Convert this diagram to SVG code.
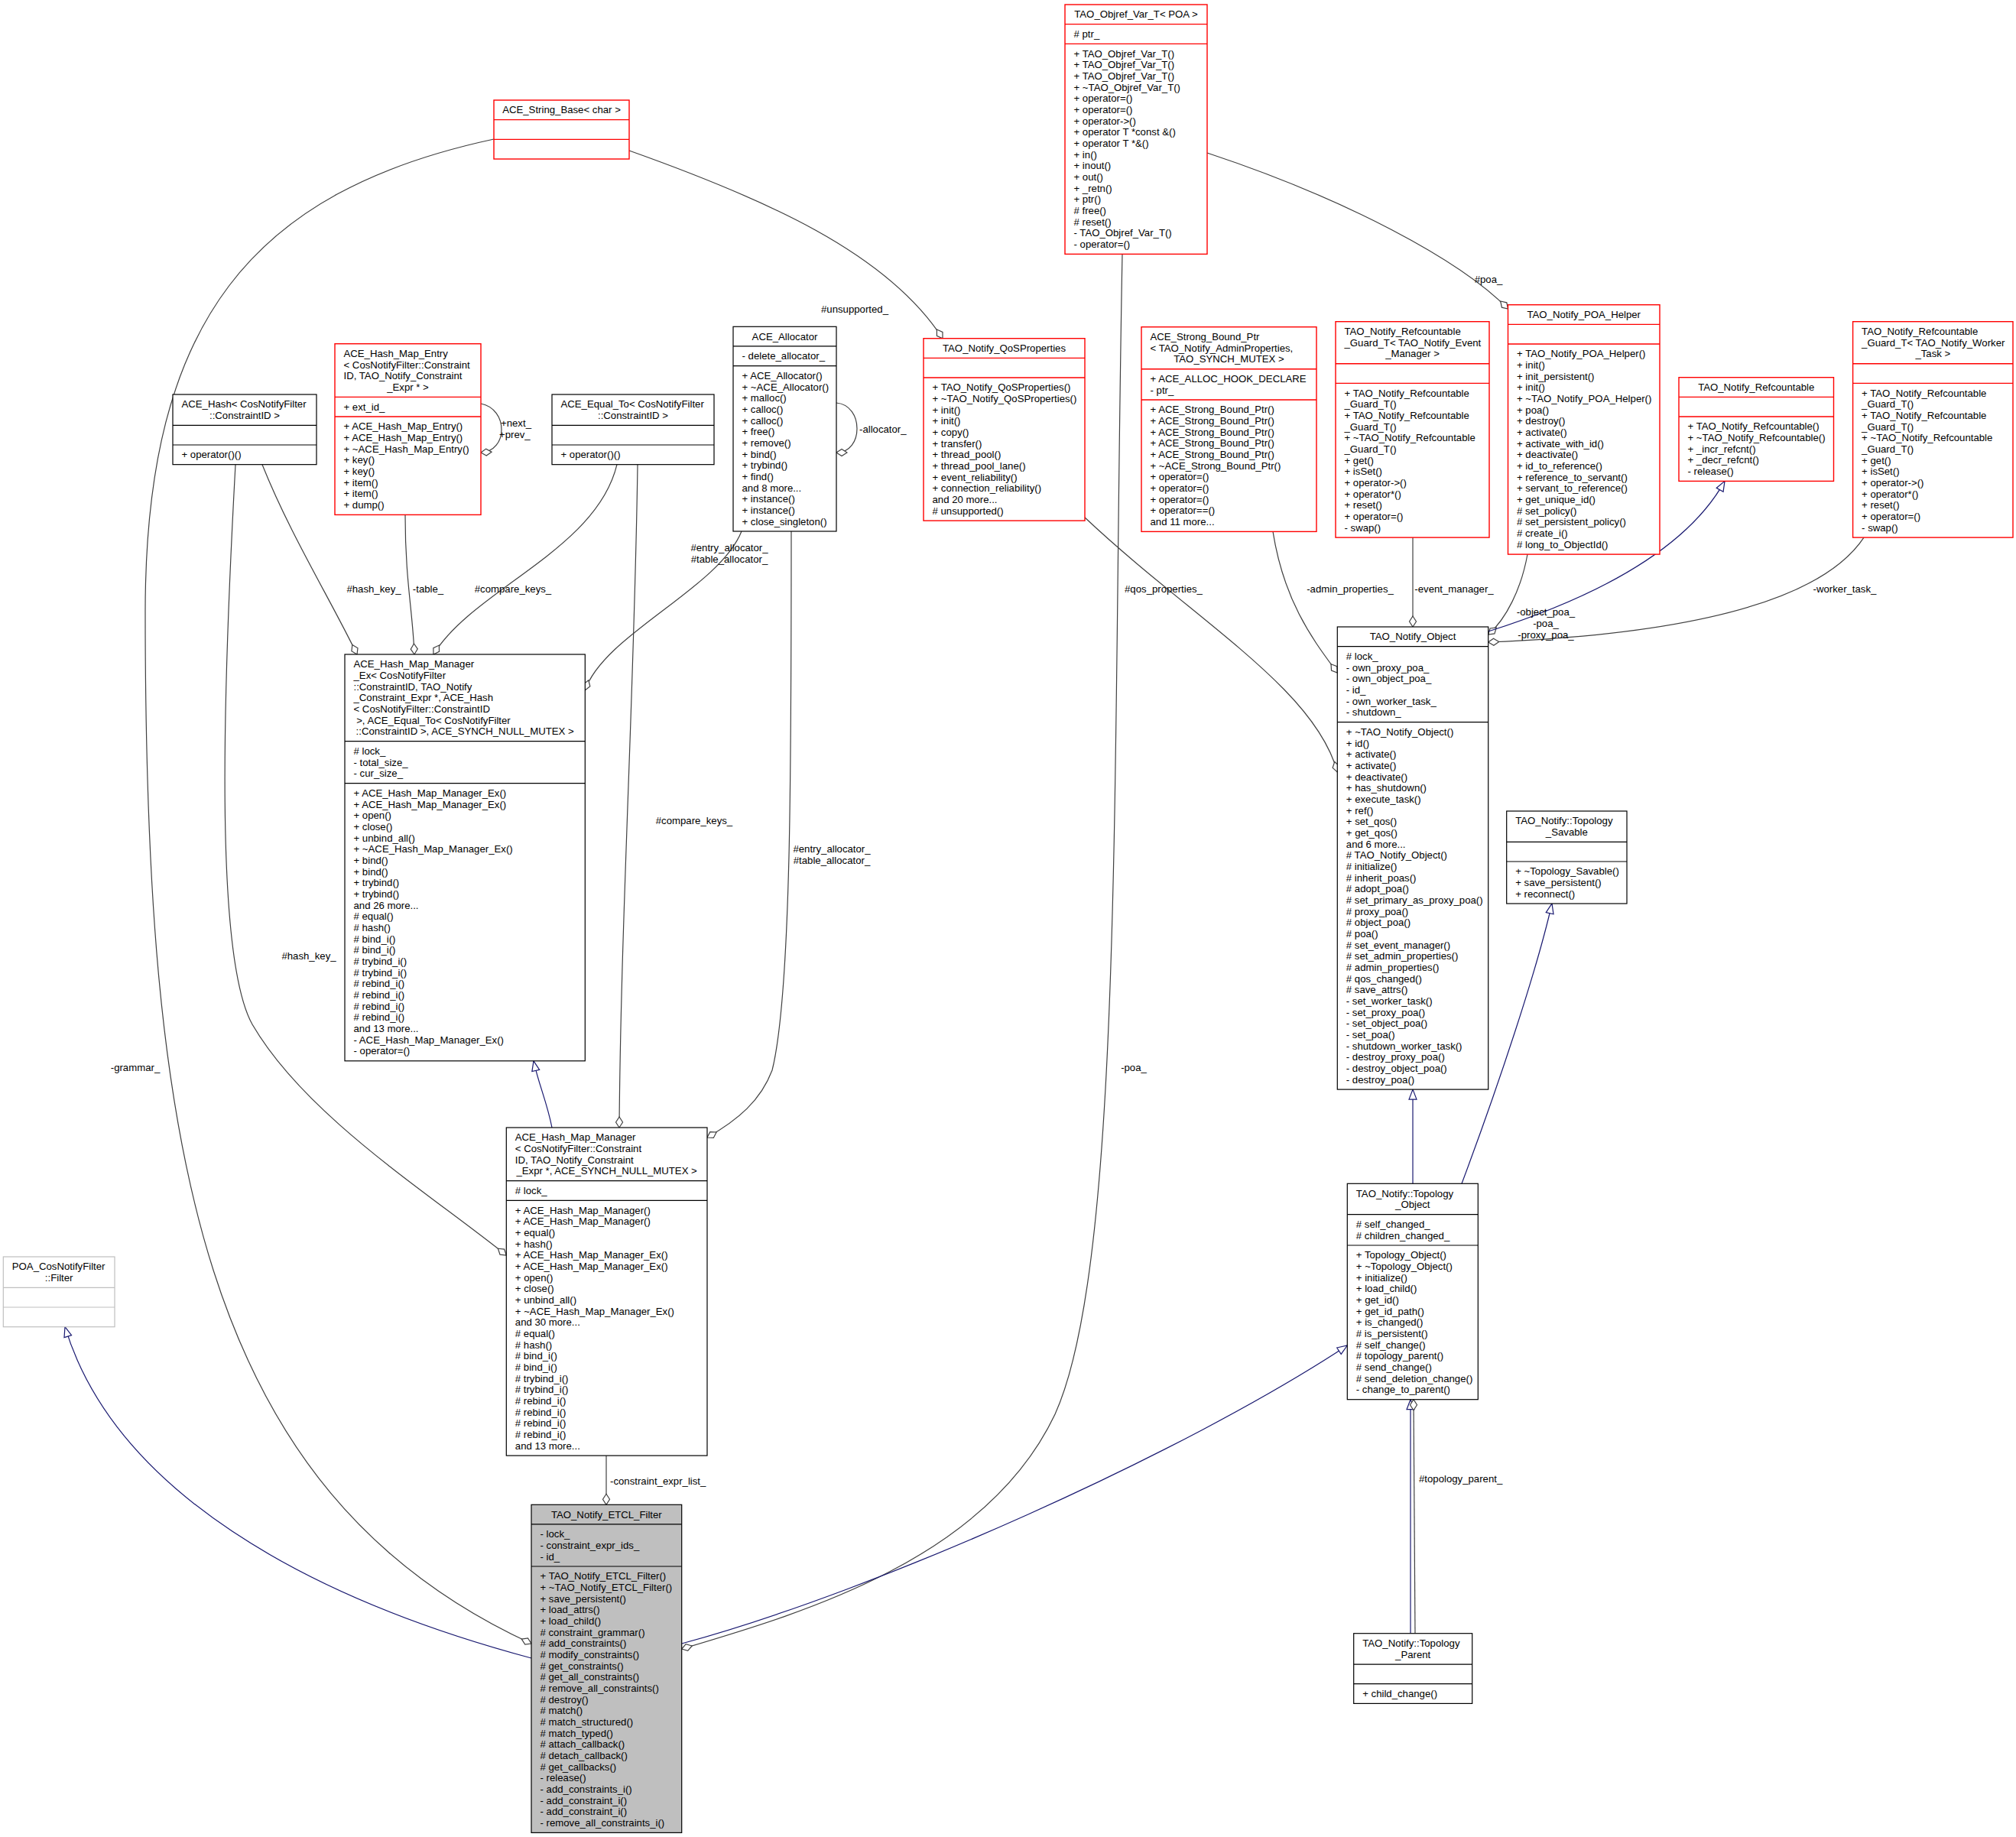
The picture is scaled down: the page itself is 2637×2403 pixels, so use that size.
<svg xmlns="http://www.w3.org/2000/svg" width="2637" height="2403" viewBox="0 0 2637 2403">
<style>
text{font-family:"Liberation Sans",Arial,Helvetica,sans-serif;font-size:13.2px;fill:#000}
.m{text-anchor:middle}
.bx{fill:#fff;stroke:#000;stroke-width:1.2}
.rd{fill:#fff;stroke:#ff0000;stroke-width:1.4}
.gy{fill:#fff;stroke:#bfbfbf;stroke-width:1.2}
.cur{fill:#bfbfbf;stroke:#000;stroke-width:1.2}
.sep{fill:none}
.e{fill:none;stroke:#404040;stroke-width:1.2;marker-end:url(#dia)}
.i{fill:none;stroke:#191970;stroke-width:1.2;marker-end:url(#tri)}
</style>
<defs>
<marker id="dia" markerUnits="userSpaceOnUse" markerWidth="17" markerHeight="12" viewBox="-1 -6 17 12" refX="14" refY="0" orient="auto"><path d="M0,0 L7,-4.5 L14,0 L7,4.5 Z" fill="#fff" stroke="#404040" stroke-width="1.2"/></marker>
<marker id="tri" markerUnits="userSpaceOnUse" markerWidth="16" markerHeight="14" viewBox="-1 -7 16 14" refX="13" refY="0" orient="auto"><path d="M0,-5 L13,0 L0,5 Z" fill="#fff" stroke="#191970" stroke-width="1.2"/></marker>
</defs>
<rect width="2637" height="2403" fill="#fff"/>

<g id="connectors">
<path class="i" d="M695 2169 C400 2090 150 1950 85 1735.7"/>
<path class="e" d="M646 182 C330 250 190 420 190 800 C190 1500 260 1950 695 2150"/>
<path class="e" d="M823 197 C1000 260 1160 330 1233 442.7"/>
<path class="e" d="M1468 332.4 C1455 1000 1470 1650 1380 1850 C1290 2040 1050 2110 891.7 2157"/>
<path class="e" d="M1579 200 C1760 260 1910 340 1972.5 404"/>
<path class="e" d="M343 607.7 C380 700 430 780 467 856"/>
<path class="e" d="M308 607.7 C292 900 280 1250 330 1340 C400 1460 560 1560 662.3 1642"/>
<path class="e" d="M530 673.4 C530 760 540 800 542 856"/>
<path class="e" d="M807 607.7 C780 720 620 770 567 856"/>
<path class="e" d="M834 607.7 C830 900 812 1200 810 1475"/>
<path class="e" d="M970 695 C940 770 790 830 765.3 903"/>
<path class="e" d="M1035 695 C1035 1000 1035 1300 1010 1400 C995 1440 965 1465 925 1488"/>
<path class="e" d="M1094 527 C1130 530 1130 592 1094 592"/>
<path class="e" d="M629 528 C665 535 665 590 629 592"/>
<path class="i" d="M722 1475 C715 1440 705 1420 698 1387.8"/>
<path class="e" d="M793 1904.1 L793 1968.3"/>
<path class="i" d="M891.7 2150 C1150 2080 1550 1900 1762.3 1760"/>
<path class="i" d="M1848 1548.3 L1848 1425.1"/>
<path class="i" d="M1912 1548.3 C1960 1420 2010 1270 2030 1182"/>
<path class="i" d="M1845 2136.7 L1845 1830.7"/>
<path class="e" d="M1851 2136.7 C1851 2000 1849 1900 1849 1830.7"/>
<path class="e" d="M1665 695.4 C1680 790 1720 840 1749.3 880"/>
<path class="e" d="M1418 676 C1560 810 1720 900 1749.3 1010"/>
<path class="e" d="M1848 703.1 L1848 820"/>
<path class="e" d="M1998 725 C1990 770 1970 810 1946.7 830"/>
<path class="i" d="M1946.7 826 C2060 790 2200 730 2256 629.4"/>
<path class="e" d="M2438 703.1 C2380 790 2200 830 1946.7 840"/>
<text class="m" x="177" y="1401">-grammar_</text>
<text class="m" x="1118" y="409">#unsupported_</text>
<text class="m" x="1483" y="1401">-poa_</text>
<text class="m" x="1947" y="370">#poa_</text>
<text class="m" x="489" y="775">#hash_key_</text>
<text class="m" x="560" y="775">-table_</text>
<text class="m" x="671" y="775">#compare_keys_</text>
<text class="m" x="954" y="721">#entry_allocator_</text>
<text class="m" x="954" y="736">#table_allocator_</text>
<text x="1124" y="566">-allocator_</text>
<text x="655" y="558">+next_</text>
<text x="653" y="573">+prev_</text>
<text class="m" x="404" y="1255">#hash_key_</text>
<text class="m" x="908" y="1078">#compare_keys_</text>
<text class="m" x="1088" y="1115">#entry_allocator_</text>
<text class="m" x="1088" y="1130">#table_allocator_</text>
<text x="798" y="1942">-constraint_expr_list_</text>
<text x="1856" y="1939">#topology_parent_</text>
<text class="m" x="1522" y="775">#qos_properties_</text>
<text class="m" x="1766" y="775">-admin_properties_</text>
<text class="m" x="1902" y="775">-event_manager_</text>
<text class="m" x="2022" y="805">-object_poa_</text>
<text class="m" x="2022" y="820">-poa_</text>
<text class="m" x="2022" y="835">-proxy_poa_</text>
<text class="m" x="2413" y="775">-worker_task_</text>
</g>

<g id="tao_objref_var_t">
<rect class="rd" x="1393" y="6" width="186" height="326.4"/>
<path class="rd sep" d="M1393 31.67H1579M1393 57.34H1579"/>
<text class="m" x="1486" y="23.2">TAO_Objref_Var_T&lt; POA &gt;</text>
<text x="1404.5" y="48.87"># ptr_</text>
<text x="1404.5" y="74.54">+ TAO_Objref_Var_T()<tspan x="1404.5" dy="14.67">+ TAO_Objref_Var_T()</tspan><tspan x="1404.5" dy="14.67">+ TAO_Objref_Var_T()</tspan><tspan x="1404.5" dy="14.67">+ ~TAO_Objref_Var_T()</tspan><tspan x="1404.5" dy="14.67">+ operator=()</tspan><tspan x="1404.5" dy="14.67">+ operator=()</tspan><tspan x="1404.5" dy="14.67">+ operator-&gt;()</tspan><tspan x="1404.5" dy="14.67">+ operator T *const &amp;()</tspan><tspan x="1404.5" dy="14.67">+ operator T *&amp;()</tspan><tspan x="1404.5" dy="14.67">+ in()</tspan><tspan x="1404.5" dy="14.67">+ inout()</tspan><tspan x="1404.5" dy="14.67">+ out()</tspan><tspan x="1404.5" dy="14.67">+ _retn()</tspan><tspan x="1404.5" dy="14.67">+ ptr()</tspan><tspan x="1404.5" dy="14.67"># free()</tspan><tspan x="1404.5" dy="14.67"># reset()</tspan><tspan x="1404.5" dy="14.67">- TAO_Objref_Var_T()</tspan><tspan x="1404.5" dy="14.67">- operator=()</tspan></text>
</g>

<g id="ace_string_base">
<rect class="rd" x="646" y="131" width="177" height="77"/>
<path class="rd sep" d="M646 156.67H823M646 182.34H823"/>
<text class="m" x="734.5" y="148.2">ACE_String_Base&lt; char &gt;</text>
</g>

<g id="ace_hash">
<rect class="bx" x="226" y="516" width="188" height="91.67"/>
<path class="bx sep" d="M226 556.34H414M226 582H414"/>
<text x="237.5" y="533.2">ACE_Hash&lt; CosNotifyFilter</text>
<text class="m" x="320" y="547.87">::ConstraintID &gt;</text>
<text x="237.5" y="599.2">+ operator()()</text>
</g>

<g id="ace_hash_map_entry">
<rect class="rd" x="438" y="449.7" width="191" height="223.7"/>
<path class="rd sep" d="M438 519.38H629M438 545.05H629"/>
<text x="449.5" y="466.9">ACE_Hash_Map_Entry<tspan x="449.5" dy="14.67">&lt; CosNotifyFilter::Constraint</tspan><tspan x="449.5" dy="14.67">ID, TAO_Notify_Constraint</tspan></text>
<text class="m" x="533.5" y="510.91">_Expr * &gt;</text>
<text x="449.5" y="536.58">+ ext_id_</text>
<text x="449.5" y="562.25">+ ACE_Hash_Map_Entry()<tspan x="449.5" dy="14.67">+ ACE_Hash_Map_Entry()</tspan><tspan x="449.5" dy="14.67">+ ~ACE_Hash_Map_Entry()</tspan><tspan x="449.5" dy="14.67">+ key()</tspan><tspan x="449.5" dy="14.67">+ key()</tspan><tspan x="449.5" dy="14.67">+ item()</tspan><tspan x="449.5" dy="14.67">+ item()</tspan><tspan x="449.5" dy="14.67">+ dump()</tspan></text>
</g>

<g id="ace_equal_to">
<rect class="bx" x="722" y="516" width="212" height="91.67"/>
<path class="bx sep" d="M722 556.34H934M722 582H934"/>
<text x="733.5" y="533.2">ACE_Equal_To&lt; CosNotifyFilter</text>
<text class="m" x="828" y="547.87">::ConstraintID &gt;</text>
<text x="733.5" y="599.2">+ operator()()</text>
</g>

<g id="ace_allocator">
<rect class="bx" x="959" y="427.3" width="135" height="267.7"/>
<path class="bx sep" d="M959 452.97H1094M959 478.64H1094"/>
<text class="m" x="1026.5" y="444.5">ACE_Allocator</text>
<text x="970.5" y="470.17">- delete_allocator_</text>
<text x="970.5" y="495.84">+ ACE_Allocator()<tspan x="970.5" dy="14.67">+ ~ACE_Allocator()</tspan><tspan x="970.5" dy="14.67">+ malloc()</tspan><tspan x="970.5" dy="14.67">+ calloc()</tspan><tspan x="970.5" dy="14.67">+ calloc()</tspan><tspan x="970.5" dy="14.67">+ free()</tspan><tspan x="970.5" dy="14.67">+ remove()</tspan><tspan x="970.5" dy="14.67">+ bind()</tspan><tspan x="970.5" dy="14.67">+ trybind()</tspan><tspan x="970.5" dy="14.67">+ find()</tspan><tspan x="970.5" dy="14.67">and 8 more...</tspan><tspan x="970.5" dy="14.67">+ instance()</tspan><tspan x="970.5" dy="14.67">+ instance()</tspan><tspan x="970.5" dy="14.67">+ close_singleton()</tspan></text>
</g>

<g id="tao_notify_qosproperties">
<rect class="rd" x="1208" y="442.7" width="211" height="238.4"/>
<path class="rd sep" d="M1208 468.37H1419M1208 494.04H1419"/>
<text class="m" x="1313.5" y="459.9">TAO_Notify_QoSProperties</text>
<text x="1219.5" y="511.24">+ TAO_Notify_QoSProperties()<tspan x="1219.5" dy="14.67">+ ~TAO_Notify_QoSProperties()</tspan><tspan x="1219.5" dy="14.67">+ init()</tspan><tspan x="1219.5" dy="14.67">+ init()</tspan><tspan x="1219.5" dy="14.67">+ copy()</tspan><tspan x="1219.5" dy="14.67">+ transfer()</tspan><tspan x="1219.5" dy="14.67">+ thread_pool()</tspan><tspan x="1219.5" dy="14.67">+ thread_pool_lane()</tspan><tspan x="1219.5" dy="14.67">+ event_reliability()</tspan><tspan x="1219.5" dy="14.67">+ connection_reliability()</tspan><tspan x="1219.5" dy="14.67">and 20 more...</tspan><tspan x="1219.5" dy="14.67"># unsupported()</tspan></text>
</g>

<g id="ace_strong_bound_ptr">
<rect class="rd" x="1493" y="427.7" width="229" height="267.7"/>
<path class="rd sep" d="M1493 482.71H1722M1493 523.05H1722"/>
<text x="1504.5" y="444.9">ACE_Strong_Bound_Ptr<tspan x="1504.5" dy="14.67">&lt; TAO_Notify_AdminProperties,</tspan></text>
<text class="m" x="1607.5" y="474.24">TAO_SYNCH_MUTEX &gt;</text>
<text x="1504.5" y="499.91">+ ACE_ALLOC_HOOK_DECLARE<tspan x="1504.5" dy="14.67">- ptr_</tspan></text>
<text x="1504.5" y="540.25">+ ACE_Strong_Bound_Ptr()<tspan x="1504.5" dy="14.67">+ ACE_Strong_Bound_Ptr()</tspan><tspan x="1504.5" dy="14.67">+ ACE_Strong_Bound_Ptr()</tspan><tspan x="1504.5" dy="14.67">+ ACE_Strong_Bound_Ptr()</tspan><tspan x="1504.5" dy="14.67">+ ACE_Strong_Bound_Ptr()</tspan><tspan x="1504.5" dy="14.67">+ ~ACE_Strong_Bound_Ptr()</tspan><tspan x="1504.5" dy="14.67">+ operator=()</tspan><tspan x="1504.5" dy="14.67">+ operator=()</tspan><tspan x="1504.5" dy="14.67">+ operator=()</tspan><tspan x="1504.5" dy="14.67">+ operator==()</tspan><tspan x="1504.5" dy="14.67">and 11 more...</tspan></text>
</g>

<g id="guard_event_manager">
<rect class="rd" x="1747" y="420.7" width="201" height="282.4"/>
<path class="rd sep" d="M1747 475.71H1948M1747 501.38H1948"/>
<text x="1758.5" y="437.9">TAO_Notify_Refcountable<tspan x="1758.5" dy="14.67">_Guard_T&lt; TAO_Notify_Event</tspan></text>
<text class="m" x="1847.5" y="467.24">_Manager &gt;</text>
<text x="1758.5" y="518.58">+ TAO_Notify_Refcountable<tspan x="1758.5" dy="14.67">_Guard_T()</tspan><tspan x="1758.5" dy="14.67">+ TAO_Notify_Refcountable</tspan><tspan x="1758.5" dy="14.67">_Guard_T()</tspan><tspan x="1758.5" dy="14.67">+ ~TAO_Notify_Refcountable</tspan><tspan x="1758.5" dy="14.67">_Guard_T()</tspan><tspan x="1758.5" dy="14.67">+ get()</tspan><tspan x="1758.5" dy="14.67">+ isSet()</tspan><tspan x="1758.5" dy="14.67">+ operator-&gt;()</tspan><tspan x="1758.5" dy="14.67">+ operator*()</tspan><tspan x="1758.5" dy="14.67">+ reset()</tspan><tspan x="1758.5" dy="14.67">+ operator=()</tspan><tspan x="1758.5" dy="14.67">- swap()</tspan></text>
</g>

<g id="tao_notify_poa_helper">
<rect class="rd" x="1972.5" y="398.7" width="198.5" height="326.4"/>
<path class="rd sep" d="M1972.5 424.37H2171M1972.5 450.04H2171"/>
<text class="m" x="2071.75" y="415.9">TAO_Notify_POA_Helper</text>
<text x="1984" y="467.24">+ TAO_Notify_POA_Helper()<tspan x="1984" dy="14.67">+ init()</tspan><tspan x="1984" dy="14.67">+ init_persistent()</tspan><tspan x="1984" dy="14.67">+ init()</tspan><tspan x="1984" dy="14.67">+ ~TAO_Notify_POA_Helper()</tspan><tspan x="1984" dy="14.67">+ poa()</tspan><tspan x="1984" dy="14.67">+ destroy()</tspan><tspan x="1984" dy="14.67">+ activate()</tspan><tspan x="1984" dy="14.67">+ activate_with_id()</tspan><tspan x="1984" dy="14.67">+ deactivate()</tspan><tspan x="1984" dy="14.67">+ id_to_reference()</tspan><tspan x="1984" dy="14.67">+ reference_to_servant()</tspan><tspan x="1984" dy="14.67">+ servant_to_reference()</tspan><tspan x="1984" dy="14.67">+ get_unique_id()</tspan><tspan x="1984" dy="14.67"># set_policy()</tspan><tspan x="1984" dy="14.67"># set_persistent_policy()</tspan><tspan x="1984" dy="14.67"># create_i()</tspan><tspan x="1984" dy="14.67"># long_to_ObjectId()</tspan></text>
</g>

<g id="tao_notify_refcountable">
<rect class="rd" x="2196" y="493.7" width="202.5" height="135.7"/>
<path class="rd sep" d="M2196 519.37H2398.5M2196 545.04H2398.5"/>
<text class="m" x="2297.25" y="510.9">TAO_Notify_Refcountable</text>
<text x="2207.5" y="562.24">+ TAO_Notify_Refcountable()<tspan x="2207.5" dy="14.67">+ ~TAO_Notify_Refcountable()</tspan><tspan x="2207.5" dy="14.67">+ _incr_refcnt()</tspan><tspan x="2207.5" dy="14.67">+ _decr_refcnt()</tspan><tspan x="2207.5" dy="14.67">- release()</tspan></text>
</g>

<g id="guard_worker_task">
<rect class="rd" x="2423.6" y="420.7" width="209.4" height="282.4"/>
<path class="rd sep" d="M2423.6 475.71H2633M2423.6 501.38H2633"/>
<text x="2435.1" y="437.9">TAO_Notify_Refcountable<tspan x="2435.1" dy="14.67">_Guard_T&lt; TAO_Notify_Worker</tspan></text>
<text class="m" x="2528.3" y="467.24">_Task &gt;</text>
<text x="2435.1" y="518.58">+ TAO_Notify_Refcountable<tspan x="2435.1" dy="14.67">_Guard_T()</tspan><tspan x="2435.1" dy="14.67">+ TAO_Notify_Refcountable</tspan><tspan x="2435.1" dy="14.67">_Guard_T()</tspan><tspan x="2435.1" dy="14.67">+ ~TAO_Notify_Refcountable</tspan><tspan x="2435.1" dy="14.67">_Guard_T()</tspan><tspan x="2435.1" dy="14.67">+ get()</tspan><tspan x="2435.1" dy="14.67">+ isSet()</tspan><tspan x="2435.1" dy="14.67">+ operator-&gt;()</tspan><tspan x="2435.1" dy="14.67">+ operator*()</tspan><tspan x="2435.1" dy="14.67">+ reset()</tspan><tspan x="2435.1" dy="14.67">+ operator=()</tspan><tspan x="2435.1" dy="14.67">- swap()</tspan></text>
</g>

<g id="ace_hash_map_manager_ex">
<rect class="bx" x="451" y="856" width="314.3" height="531.8"/>
<path class="bx sep" d="M451 969.69H765.3M451 1024.7H765.3"/>
<text x="462.5" y="873.2">ACE_Hash_Map_Manager<tspan x="462.5" dy="14.67">_Ex&lt; CosNotifyFilter</tspan><tspan x="462.5" dy="14.67">::ConstraintID, TAO_Notify</tspan><tspan x="462.5" dy="14.67">_Constraint_Expr *, ACE_Hash</tspan><tspan x="462.5" dy="14.67">&lt; CosNotifyFilter::ConstraintID</tspan><tspan x="462.5" dy="14.67" xml:space="preserve"> &gt;, ACE_Equal_To&lt; CosNotifyFilter</tspan></text>
<text class="m" x="608.15" y="961.22">::ConstraintID &gt;, ACE_SYNCH_NULL_MUTEX &gt;</text>
<text x="462.5" y="986.89"># lock_<tspan x="462.5" dy="14.67">- total_size_</tspan><tspan x="462.5" dy="14.67">- cur_size_</tspan></text>
<text x="462.5" y="1041.9">+ ACE_Hash_Map_Manager_Ex()<tspan x="462.5" dy="14.67">+ ACE_Hash_Map_Manager_Ex()</tspan><tspan x="462.5" dy="14.67">+ open()</tspan><tspan x="462.5" dy="14.67">+ close()</tspan><tspan x="462.5" dy="14.67">+ unbind_all()</tspan><tspan x="462.5" dy="14.67">+ ~ACE_Hash_Map_Manager_Ex()</tspan><tspan x="462.5" dy="14.67">+ bind()</tspan><tspan x="462.5" dy="14.67">+ bind()</tspan><tspan x="462.5" dy="14.67">+ trybind()</tspan><tspan x="462.5" dy="14.67">+ trybind()</tspan><tspan x="462.5" dy="14.67">and 26 more...</tspan><tspan x="462.5" dy="14.67"># equal()</tspan><tspan x="462.5" dy="14.67"># hash()</tspan><tspan x="462.5" dy="14.67"># bind_i()</tspan><tspan x="462.5" dy="14.67"># bind_i()</tspan><tspan x="462.5" dy="14.67"># trybind_i()</tspan><tspan x="462.5" dy="14.67"># trybind_i()</tspan><tspan x="462.5" dy="14.67"># rebind_i()</tspan><tspan x="462.5" dy="14.67"># rebind_i()</tspan><tspan x="462.5" dy="14.67"># rebind_i()</tspan><tspan x="462.5" dy="14.67"># rebind_i()</tspan><tspan x="462.5" dy="14.67">and 13 more...</tspan><tspan x="462.5" dy="14.67">- ACE_Hash_Map_Manager_Ex()</tspan><tspan x="462.5" dy="14.67">- operator=()</tspan></text>
</g>

<g id="ace_hash_map_manager">
<rect class="bx" x="662.3" y="1475" width="262.7" height="429.1"/>
<path class="bx sep" d="M662.3 1544.68H925M662.3 1570.35H925"/>
<text x="673.8" y="1492.2">ACE_Hash_Map_Manager<tspan x="673.8" dy="14.67">&lt; CosNotifyFilter::Constraint</tspan><tspan x="673.8" dy="14.67">ID, TAO_Notify_Constraint</tspan></text>
<text class="m" x="793.65" y="1536.21">_Expr *, ACE_SYNCH_NULL_MUTEX &gt;</text>
<text x="673.8" y="1561.88"># lock_</text>
<text x="673.8" y="1587.55">+ ACE_Hash_Map_Manager()<tspan x="673.8" dy="14.67">+ ACE_Hash_Map_Manager()</tspan><tspan x="673.8" dy="14.67">+ equal()</tspan><tspan x="673.8" dy="14.67">+ hash()</tspan><tspan x="673.8" dy="14.67">+ ACE_Hash_Map_Manager_Ex()</tspan><tspan x="673.8" dy="14.67">+ ACE_Hash_Map_Manager_Ex()</tspan><tspan x="673.8" dy="14.67">+ open()</tspan><tspan x="673.8" dy="14.67">+ close()</tspan><tspan x="673.8" dy="14.67">+ unbind_all()</tspan><tspan x="673.8" dy="14.67">+ ~ACE_Hash_Map_Manager_Ex()</tspan><tspan x="673.8" dy="14.67">and 30 more...</tspan><tspan x="673.8" dy="14.67"># equal()</tspan><tspan x="673.8" dy="14.67"># hash()</tspan><tspan x="673.8" dy="14.67"># bind_i()</tspan><tspan x="673.8" dy="14.67"># bind_i()</tspan><tspan x="673.8" dy="14.67"># trybind_i()</tspan><tspan x="673.8" dy="14.67"># trybind_i()</tspan><tspan x="673.8" dy="14.67"># rebind_i()</tspan><tspan x="673.8" dy="14.67"># rebind_i()</tspan><tspan x="673.8" dy="14.67"># rebind_i()</tspan><tspan x="673.8" dy="14.67"># rebind_i()</tspan><tspan x="673.8" dy="14.67">and 13 more...</tspan></text>
</g>

<g id="tao_notify_object">
<rect class="bx" x="1749.3" y="820" width="197.4" height="605.1"/>
<path class="bx sep" d="M1749.3 845.67H1946.7M1749.3 944.69H1946.7"/>
<text class="m" x="1848" y="837.2">TAO_Notify_Object</text>
<text x="1760.8" y="862.87"># lock_<tspan x="1760.8" dy="14.67">- own_proxy_poa_</tspan><tspan x="1760.8" dy="14.67">- own_object_poa_</tspan><tspan x="1760.8" dy="14.67">- id_</tspan><tspan x="1760.8" dy="14.67">- own_worker_task_</tspan><tspan x="1760.8" dy="14.67">- shutdown_</tspan></text>
<text x="1760.8" y="961.89">+ ~TAO_Notify_Object()<tspan x="1760.8" dy="14.67">+ id()</tspan><tspan x="1760.8" dy="14.67">+ activate()</tspan><tspan x="1760.8" dy="14.67">+ activate()</tspan><tspan x="1760.8" dy="14.67">+ deactivate()</tspan><tspan x="1760.8" dy="14.67">+ has_shutdown()</tspan><tspan x="1760.8" dy="14.67">+ execute_task()</tspan><tspan x="1760.8" dy="14.67">+ ref()</tspan><tspan x="1760.8" dy="14.67">+ set_qos()</tspan><tspan x="1760.8" dy="14.67">+ get_qos()</tspan><tspan x="1760.8" dy="14.67">and 6 more...</tspan><tspan x="1760.8" dy="14.67"># TAO_Notify_Object()</tspan><tspan x="1760.8" dy="14.67"># initialize()</tspan><tspan x="1760.8" dy="14.67"># inherit_poas()</tspan><tspan x="1760.8" dy="14.67"># adopt_poa()</tspan><tspan x="1760.8" dy="14.67"># set_primary_as_proxy_poa()</tspan><tspan x="1760.8" dy="14.67"># proxy_poa()</tspan><tspan x="1760.8" dy="14.67"># object_poa()</tspan><tspan x="1760.8" dy="14.67"># poa()</tspan><tspan x="1760.8" dy="14.67"># set_event_manager()</tspan><tspan x="1760.8" dy="14.67"># set_admin_properties()</tspan><tspan x="1760.8" dy="14.67"># admin_properties()</tspan><tspan x="1760.8" dy="14.67"># qos_changed()</tspan><tspan x="1760.8" dy="14.67"># save_attrs()</tspan><tspan x="1760.8" dy="14.67">- set_worker_task()</tspan><tspan x="1760.8" dy="14.67">- set_proxy_poa()</tspan><tspan x="1760.8" dy="14.67">- set_object_poa()</tspan><tspan x="1760.8" dy="14.67">- set_poa()</tspan><tspan x="1760.8" dy="14.67">- shutdown_worker_task()</tspan><tspan x="1760.8" dy="14.67">- destroy_proxy_poa()</tspan><tspan x="1760.8" dy="14.67">- destroy_object_poa()</tspan><tspan x="1760.8" dy="14.67">- destroy_poa()</tspan></text>
</g>

<g id="topology_savable">
<rect class="bx" x="1970.7" y="1061" width="157.3" height="121"/>
<path class="bx sep" d="M1970.7 1101.34H2128M1970.7 1127.01H2128"/>
<text x="1982.2" y="1078.2">TAO_Notify::Topology</text>
<text class="m" x="2049.35" y="1092.87">_Savable</text>
<text x="1982.2" y="1144.21">+ ~Topology_Savable()<tspan x="1982.2" dy="14.67">+ save_persistent()</tspan><tspan x="1982.2" dy="14.67">+ reconnect()</tspan></text>
</g>

<g id="topology_object">
<rect class="bx" x="1762.3" y="1548.3" width="171" height="282.4"/>
<path class="bx sep" d="M1762.3 1588.64H1933.3M1762.3 1628.98H1933.3"/>
<text x="1773.8" y="1565.5">TAO_Notify::Topology</text>
<text class="m" x="1847.8" y="1580.17">_Object</text>
<text x="1773.8" y="1605.84"># self_changed_<tspan x="1773.8" dy="14.67"># children_changed_</tspan></text>
<text x="1773.8" y="1646.18">+ Topology_Object()<tspan x="1773.8" dy="14.67">+ ~Topology_Object()</tspan><tspan x="1773.8" dy="14.67">+ initialize()</tspan><tspan x="1773.8" dy="14.67">+ load_child()</tspan><tspan x="1773.8" dy="14.67">+ get_id()</tspan><tspan x="1773.8" dy="14.67">+ get_id_path()</tspan><tspan x="1773.8" dy="14.67">+ is_changed()</tspan><tspan x="1773.8" dy="14.67"># is_persistent()</tspan><tspan x="1773.8" dy="14.67"># self_change()</tspan><tspan x="1773.8" dy="14.67"># topology_parent()</tspan><tspan x="1773.8" dy="14.67"># send_change()</tspan><tspan x="1773.8" dy="14.67"># send_deletion_change()</tspan><tspan x="1773.8" dy="14.67">- change_to_parent()</tspan></text>
</g>

<g id="topology_parent">
<rect class="bx" x="1770.7" y="2136.7" width="155" height="91.7"/>
<path class="bx sep" d="M1770.7 2177.04H1925.7M1770.7 2202.71H1925.7"/>
<text x="1782.2" y="2153.9">TAO_Notify::Topology</text>
<text class="m" x="1848.2" y="2168.57">_Parent</text>
<text x="1782.2" y="2219.91">+ child_change()</text>
</g>

<g id="tao_notify_etcl_filter">
<rect class="cur" x="695" y="1968.3" width="196.7" height="429.1"/>
<path class="cur sep" d="M695 1993.97H891.7M695 2048.98H891.7"/>
<text class="m" x="793.35" y="1985.5">TAO_Notify_ETCL_Filter</text>
<text x="706.5" y="2011.17">- lock_<tspan x="706.5" dy="14.67">- constraint_expr_ids_</tspan><tspan x="706.5" dy="14.67">- id_</tspan></text>
<text x="706.5" y="2066.18">+ TAO_Notify_ETCL_Filter()<tspan x="706.5" dy="14.67">+ ~TAO_Notify_ETCL_Filter()</tspan><tspan x="706.5" dy="14.67">+ save_persistent()</tspan><tspan x="706.5" dy="14.67">+ load_attrs()</tspan><tspan x="706.5" dy="14.67">+ load_child()</tspan><tspan x="706.5" dy="14.67"># constraint_grammar()</tspan><tspan x="706.5" dy="14.67"># add_constraints()</tspan><tspan x="706.5" dy="14.67"># modify_constraints()</tspan><tspan x="706.5" dy="14.67"># get_constraints()</tspan><tspan x="706.5" dy="14.67"># get_all_constraints()</tspan><tspan x="706.5" dy="14.67"># remove_all_constraints()</tspan><tspan x="706.5" dy="14.67"># destroy()</tspan><tspan x="706.5" dy="14.67"># match()</tspan><tspan x="706.5" dy="14.67"># match_structured()</tspan><tspan x="706.5" dy="14.67"># match_typed()</tspan><tspan x="706.5" dy="14.67"># attach_callback()</tspan><tspan x="706.5" dy="14.67"># detach_callback()</tspan><tspan x="706.5" dy="14.67"># get_callbacks()</tspan><tspan x="706.5" dy="14.67">- release()</tspan><tspan x="706.5" dy="14.67">- add_constraints_i()</tspan><tspan x="706.5" dy="14.67">- add_constraint_i()</tspan><tspan x="706.5" dy="14.67">- add_constraint_i()</tspan><tspan x="706.5" dy="14.67">- remove_all_constraints_i()</tspan></text>
</g>

<g id="poa_cosnotifyfilter_filter">
<rect class="gy" x="4.3" y="1644" width="145.7" height="91.7"/>
<path class="gy sep" d="M4.3 1684.34H150M4.3 1710.01H150"/>
<text x="15.8" y="1661.2">POA_CosNotifyFilter</text>
<text class="m" x="77.15" y="1675.87">::Filter</text>
</g>
</svg>
